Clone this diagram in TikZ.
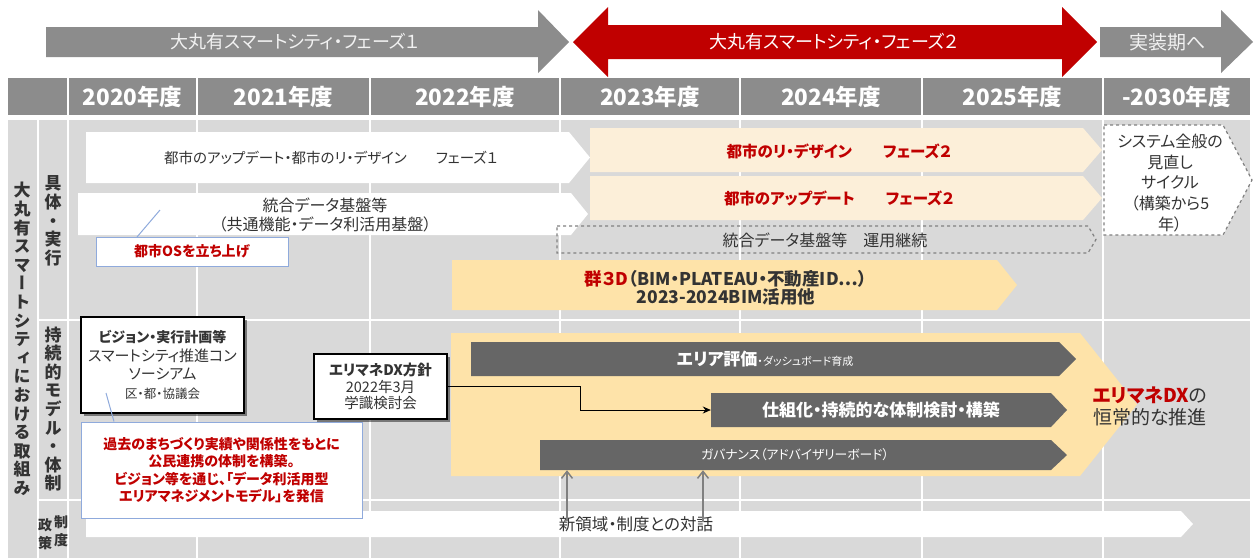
\documentclass[tikz,border=0pt]{standalone}
\usepackage{fontspec}
\setmainfont{Noto Sans CJK JP}[RawFeature=+palt]
\newfontfamily\vfont{Noto Sans CJK JP}[RawFeature=+vert]
\usetikzlibrary{arrows.meta,shadows}
\definecolor{hdrgray}{HTML}{8C8C8C}
\definecolor{bodygray}{HTML}{D9D9D9}
\definecolor{ddred}{HTML}{C00000}
\definecolor{creamA}{HTML}{FCEFD9}
\definecolor{creamB}{HTML}{FEE3A9}
\definecolor{darkg}{HTML}{666666}
\definecolor{bluegray}{HTML}{8FAADC}
\definecolor{txtc}{HTML}{333333}
\definecolor{dashg}{HTML}{808080}
\definecolor{lighttxt}{HTML}{F2F2F2}
\newcommand{\fs}[2]{\fontsize{#1}{#2}\selectfont}
\newcommand{\penta}[6]{\path[#1] (#2,#3) -- (#4,#3) -- (#6,{(#3+#5)/2}) -- (#4,#5) -- (#2,#5) -- cycle;}
\newcommand{\bigarrow}[8]{\path[#1] (#2,#3) -- (#4,#3) -- (#4,#6) -- (#8,{(#3+#5)/2}) -- (#4,#7) -- (#4,#5) -- (#2,#5) -- cycle;}
\begin{document}
\begin{tikzpicture}[x=1pt,y=-1pt,
  body/.style={inner sep=0pt, align=center},
  grid/.style={white, line width=2pt},
  conn/.style={black, line width=0.8pt},
  bluel/.style={bluegray, line width=1pt},
  uparr/.style={gray, line width=1.5pt, -{Straight Barb[length=7pt,width=11pt]}},
  shbox/.style={draw=black, fill=white, line width=1.2pt, inner sep=0pt, align=center,
    drop shadow={shadow xshift=3pt, shadow yshift=-3pt, opacity=0.45, fill=black}},
  hdr/.style={body, text=white, font=\fs{22.5}{25}\bfseries},
  vlab/.style={body, text=txtc, font=\vfont\fs{17}{18.6}\bfseries},
]
\useasboundingbox (0,0) rectangle (1254,558);
\fill[white] (0,0) rectangle (1254,558);

% ---- top phase arrows
\bigarrow{fill=hdrgray}{46}{27}{538}{57}{10}{73}{569}
\node[body, text=lighttxt, font=\fs{18}{22}] (ph1) at (295,42) {大丸有スマートシティ・フェーズ１};
\path[fill=ddred] (573,42) -- (608,7) -- (608,25) -- (1062,25) -- (1062,7) -- (1097,42)
  -- (1062,77) -- (1062,59) -- (608,59) -- (608,77) -- cycle;
\node[body, text=white, font=\fs{18}{22}] (ph2) at (834,42) {大丸有スマートシティ・フェーズ２};
\bigarrow{fill=hdrgray}{1100}{27}{1221}{57}{10}{73}{1253}
\node[body, text=lighttxt, font=\fs{19}{22}] (impl) at (1168,42) {実装期へ};

% ---- header row
\fill[hdrgray] (8,78) rectangle (1250,115);
\foreach \x in {68,197,370,560,740,922,1103} \draw[grid] (\x,78) -- (\x,115);
\node[hdr] (y20) at (132.5,97) {2020年度};
\node[hdr] (y21) at (283.5,97) {2021年度};
\node[hdr] (y22) at (465,97) {2022年度};
\node[hdr] (y23) at (650,97) {2023年度};
\node[hdr] (y24) at (831,97) {2024年度};
\node[hdr] (y25) at (1012.5,97) {2025年度};
\node[hdr] (y30) at (1176.5,97) {-2030年度};

% ---- body grid
\fill[bodygray] (8,120) rectangle (1250,558);
\foreach \x in {38,68,197,370,560,740,922,1103} \draw[grid] (\x,120) -- (\x,558);
\draw[grid] (38,320) -- (1250,320);
\draw[grid] (38,500) -- (1250,500);

% ---- left labels
\node[vlab] (lmain) at (22,339) {大\\丸\\有\\ス\\マ\\ー\\ト\\シ\\テ\\ィ\\に\\お\\け\\る\\取\\組\\み};
\node[vlab] (lexec) at (53,221) {具\\体\\・\\実\\行};
\node[vlab] (lsus) at (53,409) {持\\続\\的\\モ\\デ\\ル\\・\\体\\制};
\node[body, text=txtc, font=\vfont\fs{14}{18}\bfseries] (lpol1) at (61,531) {制\\度};
\node[body, text=txtc, font=\vfont\fs{14}{18}\bfseries] (lpol2) at (45,534) {政\\策};

% ---- row 1
\penta{fill=white}{86}{132}{569}{183}{590}
\node[body, text=txtc, font=\fs{14.5}{19}] (w1) at (331,158) {都市のアップデート・都市のリ・デザイン　　フェーズ１};
\penta{fill=white}{78}{193}{571}{235}{588}
\node[body, text=txtc, font=\fs{16}{18.5}] (w2) at (325,215) {統合データ基盤等\\（共通機能・データ利活用基盤）};
\penta{fill=creamA}{590}{128}{1083}{172}{1102}
\node[body, text=ddred, font=\fs{15.5}{18}\bfseries] (c1) at (839,151) {都市のリ・デザイン　　フェーズ２};
\penta{fill=creamA}{590}{176}{1083}{220}{1102}
\node[body, text=ddred, font=\fs{15.5}{18}\bfseries] (c2) at (839,198) {都市のアップデート　　フェーズ２};
\penta{draw=dashg, dashed, line width=1.2pt}{557}{226}{1088}{253}{1096}
\node[body, text=txtc, font=\fs{16}{18}] (ops) at (825,240) {統合データ基盤等　運用継続};
\penta{fill=white, draw=dashg, dashed, line width=1.2pt}{1104}{125}{1223}{235}{1252}
\node[body, text=txtc, font=\fs{16}{20.8}] (sys) at (1170,183) {システム全般の\\見直し\\サイクル\\（構築から5\\年）};
\penta{fill=creamB}{452}{260}{997}{310}{1017}
\node[body, text=txtc, font=\fs{17.5}{18.5}\bfseries] (bim) at (726,288) {{\color{ddred}群３D}（BIM・PLATEAU・不動産ID…）\\2023-2024BIM活用他};
\node[draw=bluegray, fill=white, line width=1pt, minimum width=192pt, minimum height=29pt, inner sep=0pt,
  text=ddred, font=\fs{14}{16}\bfseries] (os) at (192,251.5) {都市OSを立ち上げ};
\coordinate (osA) at (160,210);
\coordinate (osB) at (137,237);
\draw[bluel] (osA) -- (osB);

% ---- row 2
\penta{fill=creamB}{451}{333}{1080}{476}{1137}
\penta{fill=darkg}{471}{342}{1059}{376}{1076}
\node[body, minimum width=588pt, minimum height=34pt, text=white] (e1) at (765,359)
  {{\fs{17}{20}\bfseries エリア評価}{\fs{11}{20}・ダッシュボード育成}};
\penta{fill=darkg}{711}{393}{1051}{427}{1067}
\node[body, minimum width=340pt, minimum height=34pt, text=white, font=\fs{17}{20}\bfseries] (e2) at (881,410)
  {仕組化・持続的な体制検討・構築};
\penta{fill=darkg}{540}{440}{1051}{470}{1067}
\node[body, minimum width=511pt, minimum height=30pt, text=white, font=\fs{12.8}{14}] (e3) at (795,455)
  {ガバナンス（アドバイザリーボード）};
\node[body, text=txtc, font=\fs{19}{22}] (goal) at (1150,406)
  {{\color{ddred}\bfseries エリマネDX}の\\恒常的な推進};

% ---- row 3 (drawn before the red box, which lies over it)
\penta{fill=white}{86}{511}{1181}{537}{1193}
\node[body, text=txtc, font=\fs{16.5}{18}] (pol) at (636,524) {新領域・制度との対話};
\coordinate (u1) at (567,521);
\coordinate (u2) at (703,521);
\draw[uparr] (u1) -- (u1 |- e3.south);
\draw[uparr] (u2) -- (u2 |- e3.south);

\node[shbox, minimum width=163pt, minimum height=96pt, text=txtc, font=\fs{15}{18.5}] (vis) at (162.5,365)
  {{\fs{14}{18.5}\bfseries ビジョン・実行計画等}\\スマートシティ推進コン\\ソーシアム\\{\fs{12.5}{18.5}区・都・協議会}};
\node[shbox, minimum width=133pt, minimum height=65pt, text=txtc, font=\fs{14.5}{16.5}] (dx) at (380.5,386.5)
  {{\bfseries エリマネDX方針}\\2022年3月\\学識検討会};
\node[draw=bluegray, fill=white, line width=1pt, minimum width=281pt, minimum height=96pt, inner sep=0pt,
  align=center, text=ddred, font=\fs{14}{17.5}\bfseries] (red) at (221.5,470)
  {過去のまちづくり実績や関係性をもとに\\公民連携の体制を構築。\\ビジョン等を通じ、「データ利活用型\\エリアマネジメントモデル」を発信};
\coordinate (visA) at (106,393);
\draw[bluel] (visA) -- (red.north -| 114,0);
\coordinate (bend) at (580,0);
\draw[conn, -{Stealth[length=8pt,width=7pt]}] (dx.east) -- (dx.east -| bend) |- (e2.west);
\end{tikzpicture}
\end{document}
